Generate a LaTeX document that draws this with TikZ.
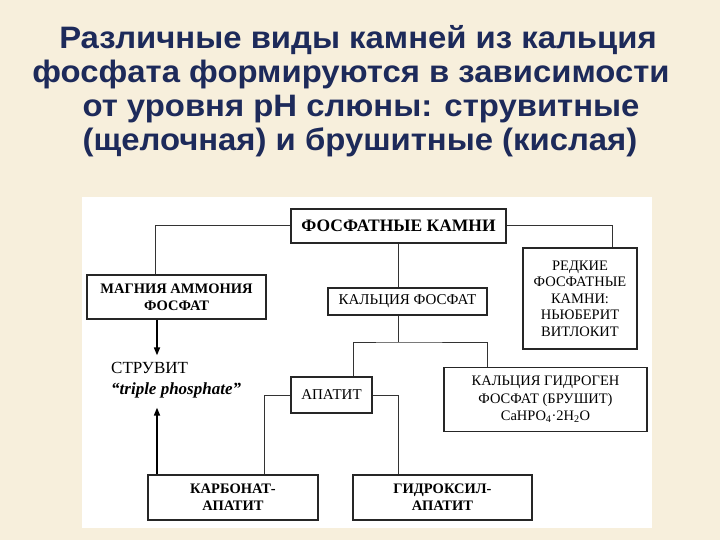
\documentclass[tikz,border=0pt]{standalone}
\usepackage{fontspec}
\setmainfont{Liberation Serif}
\newfontfamily\titlefont[FakeStretch=1.06]{Liberation Sans Bold}
\usetikzlibrary{arrows.meta}
\definecolor{bg}{HTML}{F7EFDC}
\definecolor{navy}{HTML}{1D2A5A}
\tikzset{
 box/.style={draw=black!85, line width=1.3pt, fill=white, inner sep=0pt, align=center, font=\fontsize{14.5}{16.5}\selectfont},
 bbox/.style={box, font=\fontsize{14.5}{17}\selectfont\bfseries},
 conn/.style={draw=black!80, line width=1pt},
 arr/.style={draw=black, line width=1.6pt, -{Triangle[length=8pt,width=6pt]}},
 ttl/.style={text=navy, font=\titlefont\fontsize{31}{34}\selectfont, anchor=base, inner sep=0pt},
}
\begin{document}
\begin{tikzpicture}[x=1pt,y=-1pt]
\fill[bg] (0,0) rectangle (720,540);
\useasboundingbox (0,0) rectangle (720,540);
\fill[white] (82,197) rectangle (652,528);
% title
\node[ttl] (t1) at (358,49) {Различные виды камней из кальция};
\node[ttl] (t2) at (351,83) {фосфата формируются в зависимости};
\node[ttl] (t3) at (361,117) {от уровня рН слюны: струвитные};
\node[ttl] (t4) at (360,151) {(щелочная) и брушитные (кислая)};
% boxes
\node[bbox, font=\fontsize{17.5}{19}\selectfont\bfseries, minimum width=215pt, minimum height=34pt] (A) at (398.5,226) {ФОСФАТНЫЕ КАМНИ};
\node[bbox, minimum width=179pt, minimum height=44pt] (B) at (176.5,297) {МАГНИЯ АММОНИЯ\\ФОСФАТ};
\node[box, font=\fontsize{15}{17}\selectfont, minimum width=159pt, minimum height=27pt] (C) at (407.5,301.5) {КАЛЬЦИЯ ФОСФАТ};
\node[box, minimum width=114pt, minimum height=101pt] (D) at (580,298.5) {РЕДКИЕ\\ФОСФАТНЫЕ\\КАМНИ:\\НЬЮБЕРИТ\\ВИТЛОКИТ};
\node[box, font=\fontsize{15}{17}\selectfont, minimum width=81pt, minimum height=36pt] (E) at (331.5,395) {АПАТИТ};
\node[box, font=\fontsize{14.5}{17.5}\selectfont, minimum width=203pt, minimum height=64pt] (F) at (545.5,399.5) {КАЛЬЦИЯ ГИДРОГЕН\\ФОСФАТ (БРУШИТ)\\CaHPO\textsubscript{4}·2H\textsubscript{2}O};
\node[bbox, minimum width=170pt, minimum height=45pt] (G) at (233,497.5) {КАРБОНАТ-\\АПАТИТ};
\node[bbox, minimum width=179pt, minimum height=45pt] (H) at (442.5,497.5) {ГИДРОКСИЛ-\\АПАТИТ};
\node[inner sep=0pt, anchor=west, align=left, font=\fontsize{17}{21}\selectfont] (S) at (111,380.5) {СТРУВИТ\\{\bfseries\itshape “triple phosphate”}};
% connectors
\draw[conn] (A.west) -| ([xshift=-21.5pt]B.north);
\draw[conn] (A.east) -| ([xshift=32pt]D.north);
\draw[conn] (A.south) -- (A.south |- C.north);
\coordinate (j) at (398,342);
\draw[conn] ([xshift=-9.5pt]C.south) -- (j);
\draw[conn] ([xshift=21.5pt]E.north) |- (j) -| ([xshift=-58.5pt]F.north);
\draw[conn] (E.west) -| ([xshift=31pt]G.north);
\draw[conn] (E.east) -| ([xshift=-44.5pt]H.north);
% arrows
\draw[arr, shorten >=7pt] ([xshift=-19.5pt]B.south) -- ([xshift=-19.5pt]B.south |- S.north);
\draw[arr, shorten >=9pt] ([xshift=-76pt]G.north) -- ([xshift=-76pt]G.north |- S.south);
\end{tikzpicture}
\end{document}
